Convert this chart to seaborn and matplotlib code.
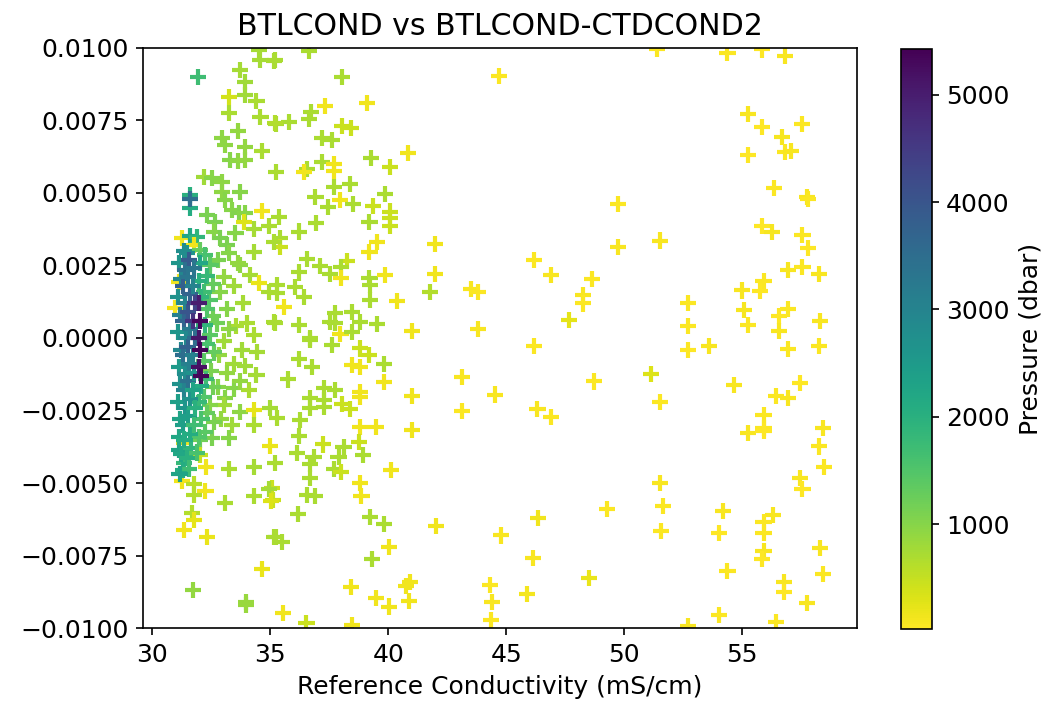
import numpy as np
import pandas as pd
import seaborn as sns
import matplotlib.pyplot as plt
from matplotlib.colors import Normalize
from matplotlib.cm import ScalarMappable

sns.set_style("ticks", rc={'axes.edgecolor': 'black', 'xtick.color': 'black',
                           'ytick.color': 'black', 'text.color': 'black',
                           'axes.labelcolor': 'black'})
plt.rcParams['font.family'] = ['DejaVu Sans']
plt.rcParams['font.size'] = 12
plt.rcParams['axes.titlesize'] = 14.4
plt.rcParams['axes.labelsize'] = 12
plt.rcParams['xtick.labelsize'] = 12
plt.rcParams['ytick.labelsize'] = 12

# (reference conductivity, BTLCOND-CTDCOND2, pressure)
far_pts = [
    (54.37, 0.00983, 60), (55.85, 0.00995, 40), (56.82, 0.00972, 80), (51.40, 0.00998, 50),
    (55.25, 0.00771, 70), (55.85, 0.00727, 40), (57.54, 0.00738, 60), (56.70, 0.00693, 90),
    (56.80, 0.00641, 50), (57.07, 0.00645, 70), (55.25, 0.00631, 40), (56.36, 0.00517, 60),
    (57.75, 0.00486, 80), (57.80, 0.00480, 50), (51.53, 0.00336, 70), (55.85, 0.00386, 40),
    (56.27, 0.00365, 90), (57.55, 0.00355, 60), (57.80, 0.00310, 40), (56.95, 0.00233, 70),
    (57.55, 0.00245, 50), (58.26, 0.00221, 80), (55.90, 0.00197, 60), (55.76, 0.00162, 40),
    (55.00, 0.00164, 70), (52.71, 0.00122, 50), (55.08, 0.00097, 90), (56.95, 0.00100, 60),
    (56.57, 0.00076, 40), (58.30, 0.00059, 70), (52.71, 0.00041, 50), (55.25, 0.00045, 60),
    (56.57, 0.00024, 80), (52.71, -0.00040, 40), (53.60, -0.00028, 70), (56.95, -0.00038, 50),
    (58.26, -0.00029, 60), (51.14, -0.00124, 300), (51.53, -0.00221, 60), (54.66, -0.00162, 80),
    (57.46, -0.00155, 40), (56.44, -0.00200, 60), (56.95, -0.00207, 70), (55.90, -0.00266, 50),
    (55.90, -0.00310, 60), (55.25, -0.00328, 80), (55.90, -0.00320, 40), (58.43, -0.00310, 70),
    (58.26, -0.00374, 50), (58.48, -0.00445, 60), (57.46, -0.00483, 80), (57.55, -0.00521, 40),
    (51.53, -0.00500, 70), (51.65, -0.00578, 50), (51.57, -0.00665, 60), (54.20, -0.00597, 80),
    (54.00, -0.00671, 40), (56.31, -0.00610, 70), (55.90, -0.00634, 50), (55.90, -0.00671, 60),
    (55.90, -0.00733, 80), (55.85, -0.00762, 40), (58.30, -0.00724, 70), (58.43, -0.00814, 50),
    (54.37, -0.00803, 60), (56.78, -0.00843, 80), (56.78, -0.00876, 40), (57.75, -0.00914, 70),
    (54.03, -0.00954, 50), (56.44, -0.00979, 60), (52.70, -0.00993, 80),
]

mid_pts = [
    (44.70, 0.00903, 60), (49.73, 0.00463, 50), (49.73, 0.00314, 70), (46.19, 0.00269, 60),
    (46.90, 0.00217, 80), (48.63, 0.00203, 50), (43.50, 0.00169, 70), (43.81, 0.00159, 60),
    (48.25, 0.00148, 80), (48.25, 0.00119, 50), (47.67, 0.00062, 250), (43.80, 0.00032, 70),
    (46.19, -0.00027, 60), (43.12, -0.00133, 80), (48.70, -0.00150, 60), (44.53, -0.00195, 70),
    (43.12, -0.00253, 50), (46.32, -0.00245, 80), (46.91, -0.00272, 60), (49.27, -0.00590, 60),
    (46.34, -0.00621, 150), (44.79, -0.00681, 70), (46.13, -0.00759, 80), (48.52, -0.00828, 200),
    (44.32, -0.00852, 60), (45.87, -0.00883, 120), (44.39, -0.00910, 70), (44.35, -0.00972, 60),
]

upper_pts = [
    (36.65, 0.00990, 700), (35.21, 0.00958, 700), (38.04, 0.00899, 700), (37.33, 0.00800, 150),
    (39.10, 0.00809, 150), (36.72, 0.00780, 700), (36.65, 0.00755, 700), (35.78, 0.00744, 700),
    (35.25, 0.00738, 700), (38.04, 0.00731, 450), (38.43, 0.00723, 450), (37.19, 0.00691, 700),
    (37.61, 0.00683, 700), (39.26, 0.00622, 700), (40.83, 0.00637, 150), (40.08, 0.00591, 450),
    (37.19, 0.00606, 700), (37.68, 0.00600, 150), (37.68, 0.00576, 150), (36.55, 0.00583, 700),
    (36.41, 0.00571, 150), (35.25, 0.00573, 700), (37.68, 0.00522, 700), (38.39, 0.00530, 700),
    (36.91, 0.00487, 700), (37.94, 0.00476, 150), (38.50, 0.00462, 700), (39.87, 0.00497, 700),
    (37.43, 0.00451, 700), (39.35, 0.00456, 450), (40.06, 0.00436, 450), (40.06, 0.00413, 450),
    (40.06, 0.00386, 450), (39.20, 0.00401, 700), (36.94, 0.00396, 700), (35.35, 0.00418, 700),
    (36.20, 0.00367, 700), (39.52, 0.00332, 150), (39.20, 0.00298, 150), (41.99, 0.00324, 150),
    (35.42, 0.00344, 700), (35.42, 0.00315, 450), (36.55, 0.00272, 700), (38.25, 0.00266, 450),
    (37.09, 0.00249, 700), (37.99, 0.00244, 700), (37.54, 0.00220, 700), (37.99, 0.00206, 150),
    (36.20, 0.00226, 700), (39.20, 0.00206, 700), (39.87, 0.00217, 150), (41.99, 0.00220, 150),
    (39.24, 0.00183, 700), (39.24, 0.00131, 700), (40.37, 0.00129, 150), (41.78, 0.00160, 650),
    (36.06, 0.00177, 700), (36.41, 0.00142, 700), (35.56, 0.00106, 150), (35.28, 0.00183, 700),
    (35.28, 0.00155, 700), (35.21, 0.00051, 700), (36.20, 0.00045, 700), (36.67, 0.00000, 700),
    (37.75, 0.00085, 700), (38.46, 0.00091, 700), (37.75, 0.00051, 700), (38.81, 0.00056, 700),
    (39.52, 0.00047, 700), (37.97, 0.00013, 150), (38.46, 0.00022, 700), (41.00, 0.00024, 150),
    (37.54, 0.00056, 700),
]

lower_pts = [
    (36.69, -0.00007, 700), (37.61, -0.00024, 700), (38.81, -0.00036, 450), (39.17, -0.00059, 450),
    (36.20, -0.00073, 700), (36.77, -0.00099, 700), (38.46, -0.00093, 150), (38.81, -0.00099, 150),
    (39.83, -0.00090, 700), (39.83, -0.00151, 150), (35.75, -0.00143, 700), (37.26, -0.00174, 700),
    (37.75, -0.00179, 700), (36.69, -0.00208, 700), (37.26, -0.00214, 700), (36.69, -0.00242, 700),
    (37.26, -0.00239, 700), (38.04, -0.00228, 450), (38.39, -0.00246, 450), (38.81, -0.00185, 150),
    (38.81, -0.00202, 150), (41.00, -0.00199, 150), (41.00, -0.00317, 150), (38.81, -0.00306, 150),
    (39.49, -0.00306, 150), (36.24, -0.00283, 700), (35.28, -0.00277, 700), (36.20, -0.00338, 700),
    (37.22, -0.00367, 450), (38.74, -0.00358, 450), (38.10, -0.00375, 700), (38.93, -0.00403, 700),
    (36.13, -0.00398, 700), (36.83, -0.00409, 700), (37.89, -0.00411, 700), (36.69, -0.00434, 700),
    (37.68, -0.00453, 700), (37.99, -0.00461, 450), (40.13, -0.00455, 150), (36.67, -0.00484, 700),
    (38.79, -0.00501, 150), (38.86, -0.00544, 150), (36.55, -0.00541, 700), (36.88, -0.00544, 700),
    (35.07, -0.00518, 450), (35.11, -0.00559, 450), (36.17, -0.00608, 700), (39.24, -0.00616, 700),
    (39.83, -0.00641, 700), (42.02, -0.00647, 150), (35.25, -0.00685, 700), (35.50, -0.00702, 700),
    (40.04, -0.00720, 150), (39.31, -0.00763, 700), (38.42, -0.00858, 150), (40.93, -0.00840, 150),
    (40.76, -0.00855, 150), (40.86, -0.00906, 150), (39.48, -0.00898, 150), (40.01, -0.00926, 150),
    (35.54, -0.00949, 150), (36.53, -0.00982, 450), (38.46, -0.00990, 150),
]

near_upper_pts = [
    (31.94, 0.00899, 1700), (34.50, 0.00993, 750), (34.58, 0.00958, 750), (35.14, 0.00955, 700),
    (33.73, 0.00924, 750), (33.94, 0.00884, 800), (33.23, 0.00832, 400), (33.94, 0.00838, 800),
    (34.41, 0.00817, 700), (33.26, 0.00775, 700), (34.58, 0.00763, 700), (35.21, 0.00740, 650),
    (33.61, 0.00714, 900), (32.95, 0.00691, 950), (33.09, 0.00665, 950), (33.94, 0.00660, 900),
    (34.65, 0.00645, 700), (33.31, 0.00614, 1000), (33.61, 0.00610, 950), (33.94, 0.00614, 900),
    (32.17, 0.00556, 800), (32.52, 0.00551, 1000), (32.95, 0.00539, 950), (31.61, 0.00493, 2000),
    (31.58, 0.00447, 2100), (31.60, 0.00480, 3500), (33.73, 0.00504, 1000), (32.95, 0.00504, 950),
    (33.09, 0.00476, 1000), (34.65, 0.00439, 150), (33.38, 0.00441, 1000), (33.66, 0.00430, 1050),
    (33.94, 0.00432, 1000), (32.31, 0.00424, 1100), (32.67, 0.00401, 1100), (33.87, 0.00401, 300),
    (34.32, 0.00376, 750), (34.93, 0.00387, 700), (31.26, 0.00346, 150), (31.58, 0.00353, 2200),
    (31.89, 0.00349, 1900), (31.75, 0.00321, 150), (32.60, 0.00367, 1000), (32.88, 0.00344, 1100),
    (33.52, 0.00361, 1000), (33.17, 0.00321, 1100), (32.03, 0.00303, 1300), (31.47, 0.00292, 2700),
    (34.29, 0.00298, 750), (35.14, 0.00332, 700), (33.23, 0.00292, 1000), (32.46, 0.00258, 1200),
    (33.73, 0.00252, 950), (34.15, 0.00217, 750), (34.50, 0.00189, 200), (34.93, 0.00160, 700),
    (30.97, 0.00102, 100), (31.11, 0.00192, 150), (35.14, 0.00056, 700),
]

near_lower_pts = [
    (34.29, 0.00010, 700), (34.44, -0.00047, 750), (33.94, -0.00097, 800), (34.41, -0.00128, 750),
    (33.45, -0.00174, 1000), (33.09, -0.00208, 1000), (33.73, -0.00254, 950), (33.38, -0.00300, 800),
    (34.32, -0.00248, 250), (34.29, -0.00300, 700), (35.00, -0.00242, 750), (32.52, -0.00346, 1100),
    (33.23, -0.00346, 1000), (32.00, -0.00352, 1200), (35.00, -0.00371, 200), (31.33, -0.00363, 150),
    (31.11, -0.00386, 2300), (32.03, -0.00403, 500), (31.33, -0.00432, 1800), (32.29, -0.00446, 150),
    (33.26, -0.00453, 700), (34.29, -0.00446, 750), (35.21, -0.00430, 700), (31.26, -0.00492, 150),
    (31.75, -0.00503, 600), (32.25, -0.00527, 150), (31.75, -0.00541, 650), (33.09, -0.00570, 700),
    (34.29, -0.00545, 700), (34.93, -0.00522, 750), (35.02, -0.00561, 300), (31.69, -0.00602, 650),
    (31.75, -0.00628, 250), (31.33, -0.00662, 150), (32.31, -0.00687, 200), (35.14, -0.00685, 700),
    (34.65, -0.00798, 200), (31.72, -0.00869, 900), (33.97, -0.00909, 850), (33.97, -0.00920, 850),
    (31.22, -0.00400, 2200), (31.45, -0.00415, 2000), (31.62, -0.00380, 1900), (31.90, -0.00395, 1600),
    (31.30, -0.00455, 2100), (31.55, -0.00450, 1700), (31.15, -0.00470, 2300),
]

# dense deep-water cluster around 31-34 mS/cm
cluster_pts = [
    (33.47, 0.00180, 800), (33.56, 0.00040, 700), (33.44, -0.00090, 800),
    (33.62, 0.00260, 900), (33.83, 0.00120, 750), (34.02, 0.00050, 700),
    (33.78, -0.00040, 800), (34.10, -0.00180, 700), (33.70, -0.00150, 900),
    (33.05, 0.00210, 900), (33.18, 0.00100, 1000), (33.02, -0.00010, 800),
    (33.15, -0.00120, 900), (33.04, -0.00230, 800), (33.25, 0.00030, 950),
    (32.76, 0.00270, 1100), (32.87, 0.00160, 1000), (32.73, 0.00050, 1200),
    (32.84, -0.00060, 900), (32.78, -0.00170, 1000), (32.90, -0.00280, 900),
    (32.46, 0.00250, 1400), (32.55, 0.00185, 1300), (32.42, 0.00130, 1500),
    (32.58, 0.00075, 1200), (32.44, 0.00010, 1400), (32.60, -0.00050, 1300),
    (32.47, -0.00115, 1100), (32.56, -0.00170, 1200), (32.43, -0.00230, 1000),
    (32.62, -0.00290, 1100),
    (32.22, 0.00285, 1600), (32.30, 0.00215, 1800), (32.19, 0.00160, 1700),
    (32.31, 0.00100, 1500), (32.21, 0.00045, 1900), (32.33, -0.00020, 1600),
    (32.18, -0.00080, 1400), (32.28, -0.00140, 1700), (32.20, -0.00205, 1500),
    (32.32, -0.00260, 1300), (32.24, -0.00325, 1400),
    (32.02, 0.00260, 2200), (31.96, 0.00195, 2000), (32.06, 0.00140, 1900),
    (32.05, -0.00165, 2100), (31.97, -0.00220, 1800), (32.08, -0.00280, 1600),
    (31.99, -0.00340, 1500),
    (31.12, 0.00260, 2600), (31.20, 0.00205, 2900), (31.10, 0.00140, 2700),
    (31.18, 0.00080, 3100), (31.09, 0.00020, 2600), (31.21, -0.00040, 2900),
    (31.11, -0.00100, 2500), (31.17, -0.00160, 2700), (31.08, -0.00220, 2400),
    (31.19, -0.00280, 2300), (31.13, -0.00340, 2200),
    (31.34, 0.00300, 2800), (31.40, 0.00235, 3400), (31.30, 0.00180, 3800),
    (31.38, 0.00120, 3000), (31.32, 0.00060, 3700), (31.41, 0.00000, 2900),
    (31.31, -0.00060, 3500), (31.39, -0.00125, 2800), (31.33, -0.00180, 3000),
    (31.40, -0.00240, 2600), (31.30, -0.00300, 2400), (31.36, -0.00350, 2100),
    (31.56, 0.00270, 3900), (31.50, 0.00210, 3300), (31.60, 0.00150, 3700),
    (31.52, 0.00090, 4000), (31.58, 0.00030, 3200), (31.49, -0.00030, 3800),
    (31.57, -0.00090, 3100), (31.51, -0.00150, 3400), (31.59, -0.00210, 2700),
    (31.53, -0.00270, 2400), (31.61, -0.00330, 2100),
    (31.76, 0.00240, 3300), (31.72, 0.00180, 3000), (31.79, 0.00120, 4300),
    (31.74, 0.00060, 4600), (31.80, 0.00000, 3500), (31.71, -0.00060, 3100),
    (31.78, -0.00120, 2700), (31.73, -0.00180, 2300), (31.81, -0.00240, 2000),
    (31.75, -0.00300, 1700),
    (31.98, 0.00120, 5000), (32.00, 0.00060, 5300), (31.97, 0.00000, 5100),
    (32.02, -0.00040, 5400), (31.99, -0.00100, 5200), (32.05, -0.00130, 5350),
]

groups = [far_pts, mid_pts, upper_pts, lower_pts, near_upper_pts, near_lower_pts, cluster_pts]
rows = [p for g in groups for p in g]
df = pd.DataFrame(rows, columns=['cond', 'diff', 'pres'])

p_min, p_max = 24, 5425

fig = plt.figure(figsize=(1055 / 150, 713 / 150), dpi=150)
ax = fig.add_axes([0.1355, 0.1192, 0.6768, 0.8135])
cax = fig.add_axes([0.854, 0.1178, 0.029, 0.8135])

sns.scatterplot(data=df, x='cond', y='diff', hue='pres', palette='viridis_r',
                hue_norm=(p_min, p_max), marker='+', s=60, linewidth=2,
                legend=False, ax=ax)

ax.set_ylim(-0.01, 0.01)
ax.set_xlim(29.6, 59.86)
ax.set_title('BTLCOND vs BTLCOND-CTDCOND2')
ax.set_xlabel('Reference Conductivity (mS/cm)')
ax.set_ylabel('')

sm = ScalarMappable(norm=Normalize(p_min, p_max), cmap='viridis_r')
cb = fig.colorbar(sm, cax=cax)
cb.set_label('Pressure (dbar)')

fig.savefig('out.png', dpi=150)
